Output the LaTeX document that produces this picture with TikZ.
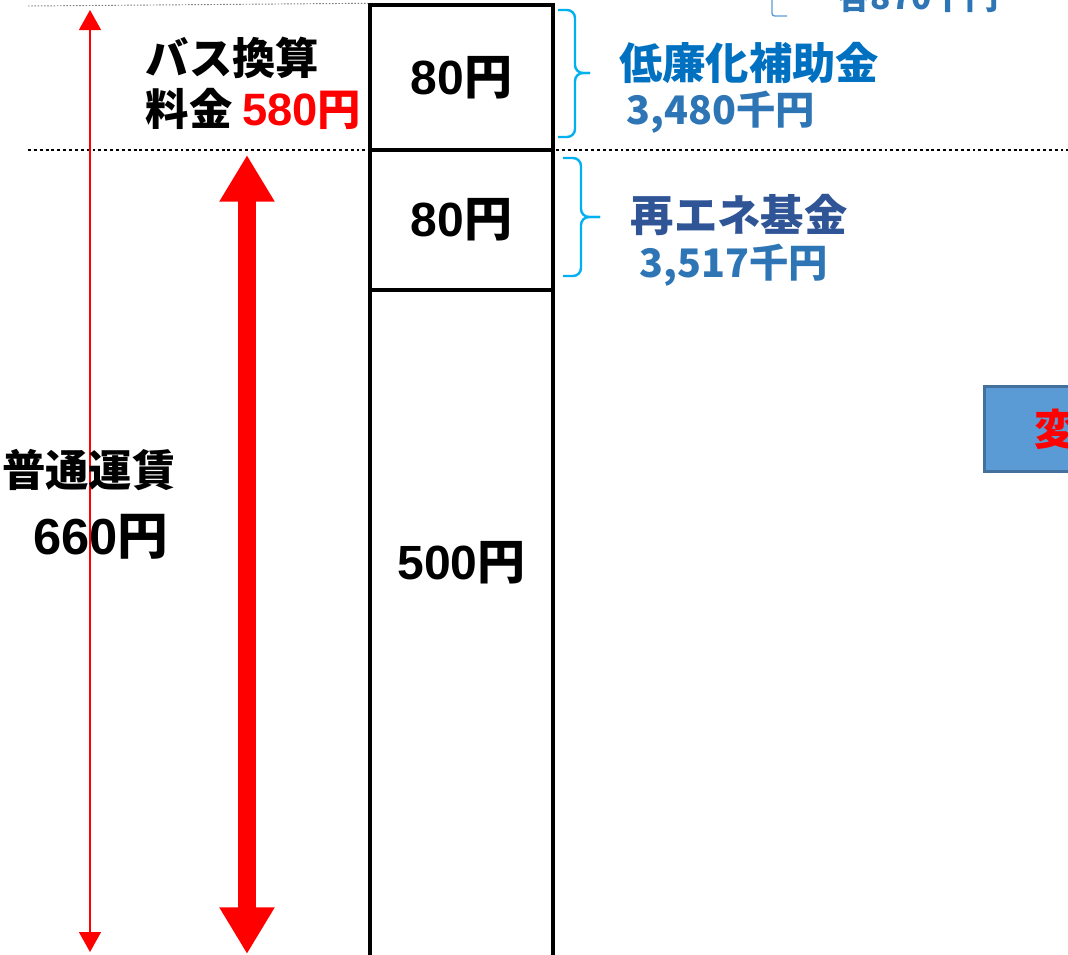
\documentclass[tikz,border=0pt]{standalone}
\usepackage{fontspec}
\setmainfont{Noto Sans CJK JP}
\newfontfamily\numfont{Liberation Sans}
\usetikzlibrary{arrows.meta}

\definecolor{subsidyblue}{HTML}{0070C0}
\definecolor{fundblue}{HTML}{2F5597}
\definecolor{sumblue}{HTML}{2E75B6}
\definecolor{bracecyan}{HTML}{00B0F0}
\definecolor{boxfill}{HTML}{5B9BD5}
\definecolor{boxedge}{HTML}{41719C}

\newcommand\enamt[1]{{\numfont\bfseries #1}円}

\tikzset{x=0.75pt,y=-0.75pt,
	farebox/.style={draw,line width=2.6pt,minimum width=137.25pt,inner sep=0pt},
	amount/.style={font=\bfseries\fontsize{36}{40}\selectfont},
	label/.style={font=\bfseries\fontsize{32.5}{38}\selectfont},
	sum/.style={sumblue,font=\bfseries\fontsize{29.5}{34}\selectfont},
	fundbrace/.style={bracecyan,line width=1.8pt,rounded corners=6pt}}

\begin{document}
\begin{tikzpicture}
	 \useasboundingbox (0,0) rectangle (1068,954);
	 \clip (0,0) rectangle (1068,954);

	 \node[farebox,minimum height=108.75pt] (upper) at (461.5,77.5) {};
	 \node[farebox,minimum height=105pt] (middle) at (461.5,220) {};
	 \node[farebox,minimum height=502.5pt] (lower) at (461.5,625) {};
	 \node[amount] (upper-fare) at (upper) {\enamt{80}};
	 \node[amount] (middle-fare) at (middle) {\enamt{80}};
	 \node[amount] (lower-fare) at (461.5,563) {\enamt{500}};

	 \draw[gray,line width=.7pt,dash pattern=on 1.2pt off 1.2pt] (28,6) -- (upper.north west);
	 \draw[line width=2pt,dash pattern=on 2.2pt off 2.2pt] (28,150) -- (1068,150);

	 % fares on the left
	 \coordinate (fare-top) at (90,10);
	 \coordinate (fare-bot) at (90,952);
	 \draw[red,line width=1pt,{Triangle[length=15pt,width=16.5pt]}-{Triangle[length=15pt,width=16.5pt]}] (fare-top) -- (fare-bot);
	 \coordinate (bus-top) at (247,155);
	 \coordinate (bus-bot) at (247,954);
	 \draw[red,line width=13.5pt,{Triangle[length=35pt,width=39pt]}-{Triangle[length=35pt,width=39pt]}] (bus-top) -- (bus-bot);

	 \node[label,align=left,anchor=west] (bus) at (141,83) {バス換算\\料金 {\color{red}{\numfont\fontsize{34}{38}\selectfont 580}円}};
	 \node[label] (regular) at (89,470) {普通運賃};
	 \node[font=\bfseries\fontsize{38}{42}\selectfont] (regular-fare) at (101,537) {\enamt{660}};

	 % funds on the right
	 \draw[fundbrace] (558,10) -- (575,10) -- (575,73) -- (590,73);
	 \draw[fundbrace] (558,137) -- (575,137) -- (575,73) -- (590,73);
	 \draw[fundbrace] (563,158) -- (581,158) -- (581,217) -- (600,217);
	 \draw[fundbrace] (563,276) -- (581,276) -- (581,217) -- (600,217);
	 \node[label,subsidyblue] (subsidy) at (749,63) {低廉化補助金};
	 \node[sum] (subsidy-sum) at (721,112) {3,480千円};
	 \node[label,fundblue] (fund) at (739,215) {再エネ基金};
	 \node[sum] (fund-sum) at (734,265) {3,517千円};

	 \draw[boxfill,line width=1pt,rounded corners=2pt] (772,-10) -- (772,16) -- (787,16);
	 \node[sum,font=\bfseries\fontsize{25}{30}\selectfont,anchor=base] (each) at (918,9) {各870千円};

	 \node[draw=boxedge,fill=boxfill,line width=2.2pt,anchor=north west,minimum height=63.75pt,
		text width=75pt,inner xsep=37.5pt,align=left,text=red,font=\bfseries\fontsize{32}{36}\selectfont] (change) at (983,385) {変};
\end{tikzpicture}
\end{document}
